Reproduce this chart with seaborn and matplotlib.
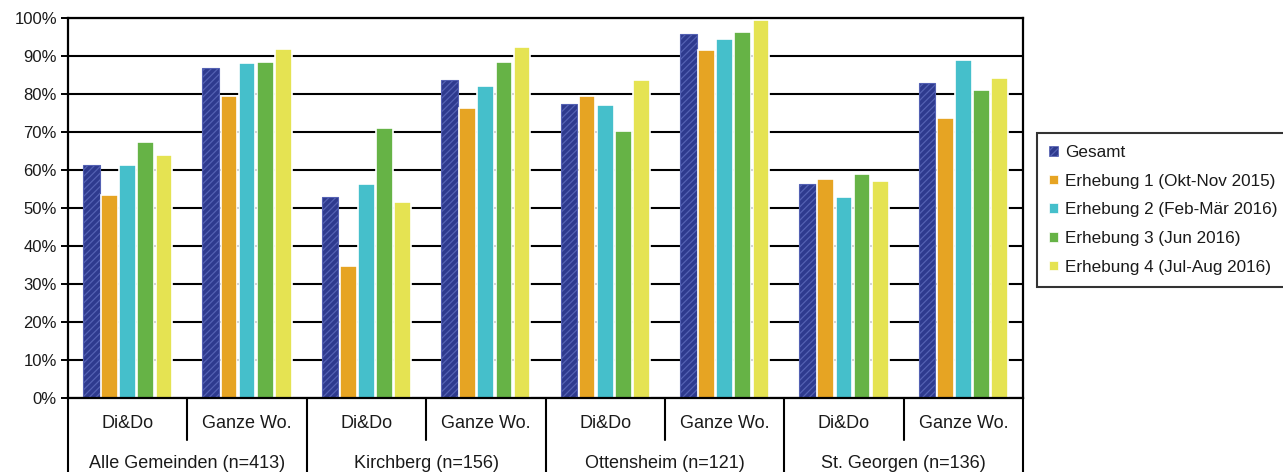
import pandas as pd
import matplotlib.pyplot as plt
import seaborn as sns
from matplotlib.patches import Patch
from matplotlib.ticker import FuncFormatter

# Daten (Anteile in %)
gemeinden = ['Alle Gemeinden (n=413)', 'Kirchberg (n=156)', 'Ottensheim (n=121)', 'St. Georgen (n=136)']
zeitraum = ['Di&Do', 'Ganze Wo.']
serien = ['Gesamt', 'Erhebung 1 (Okt-Nov 2015)', 'Erhebung 2 (Feb-Mär 2016)',
          'Erhebung 3 (Jun 2016)', 'Erhebung 4 (Jul-Aug 2016)']
farben = ['#2E3A8E', '#E6A423', '#45BFCB', '#66B346', '#E5E352']

gesamt = [61.3, 86.8, 52.8, 83.7, 77.4, 95.8, 56.2, 82.9]
erhebung1 = [53.4, 79.6, 34.7, 76.2, 79.6, 91.7, 57.6, 73.7]
erhebung2 = [61.3, 88.1, 56.4, 82.1, 77.0, 94.5, 52.8, 89.0]
erhebung3 = [67.3, 88.3, 71.1, 88.3, 70.3, 96.2, 58.9, 81.1]
erhebung4 = [63.9, 91.8, 51.6, 92.4, 83.7, 99.6, 57.1, 84.2]

gruppen = [f'{g}|{z}' for g in gemeinden for z in zeitraum]
rows = []
for s, werte in zip(serien, [gesamt, erhebung1, erhebung2, erhebung3, erhebung4]):
    for grp, w in zip(gruppen, werte):
        rows.append({'gruppe': grp, 'serie': s, 'wert': w})
df = pd.DataFrame(rows)

sns.set_style('white')
plt.rcParams['font.family'] = ['Liberation Sans', 'DejaVu Sans']
plt.rcParams['hatch.linewidth'] = 0.9

fig = plt.figure(figsize=(12.83, 4.72), dpi=100)
ax = fig.add_axes([68 / 1283, 74 / 472, 955 / 1283, 380 / 472])

sns.barplot(data=df, x='gruppe', y='wert', hue='serie', order=gruppen, hue_order=serien,
            palette=farben, saturation=1, width=0.76, gap=0.08, edgecolor='white',
            linewidth=1.2, legend=False, ax=ax)

# Schraffur für Gesamt
for bar in ax.containers[0]:
    bar.set_hatch('/////')
    bar.set_edgecolor('#5461b3')
    bar.set_linewidth(0.8)

ax.set_ylim(0, 100)
ax.set_xlim(-0.5, 7.5)
ax.set_yticks(range(0, 101, 10))
ax.yaxis.set_major_formatter(FuncFormatter(lambda v, p: f'{v:.0f}%'))
ax.set_axisbelow(True)
ax.yaxis.grid(True, color='black', linewidth=1.5)
ax.xaxis.grid(False)
ax.set_xlabel('')
ax.set_ylabel('')
ax.set_xticks([])
ax.tick_params(axis='y', left=True, length=5, width=1.4, color='black',
               labelsize=12, labelcolor='#1a1a1a', pad=3)
for sp in ax.spines.values():
    sp.set_color('black')
    sp.set_linewidth(1.6)

# Tabellenartige Achsenbeschriftung
tr = ax.get_xaxis_transform()
for i in range(9):
    x = i - 0.5
    unten = -0.2 if i % 2 == 0 else -0.11
    ax.plot([x, x], [0, unten], transform=tr, clip_on=False, color='black', lw=1.5)
for i, grp in enumerate(gruppen):
    ax.text(i, -0.066, grp.split('|')[1], transform=tr, ha='center', va='center',
            fontsize=13, color='#1a1a1a')
for j, g in enumerate(gemeinden):
    ax.text(2 * j + 0.5, -0.173, g, transform=tr, ha='center', va='center',
            fontsize=13, color='#1a1a1a')

# Legende
handles = [Patch(facecolor=c, edgecolor='white' if k else '#5461b3',
                 hatch='/////' if k == 0 else None, linewidth=0.5)
           for k, c in enumerate(farben)]
leg = fig.legend(handles, serien, loc='upper left', bbox_to_anchor=(1037 / 1283, 1 - 133 / 472),
                 frameon=True, fancybox=False, edgecolor='black', fontsize=12.3,
                 handlelength=0.5, handleheight=0.5, handletextpad=0.45,
                 labelspacing=0.8, borderpad=0.7, borderaxespad=0)
leg.get_frame().set_linewidth(1.5)
for t in leg.get_texts():
    t.set_color('#1a1a1a')

fig.savefig('out.png', dpi=100)
plt.close(fig)
